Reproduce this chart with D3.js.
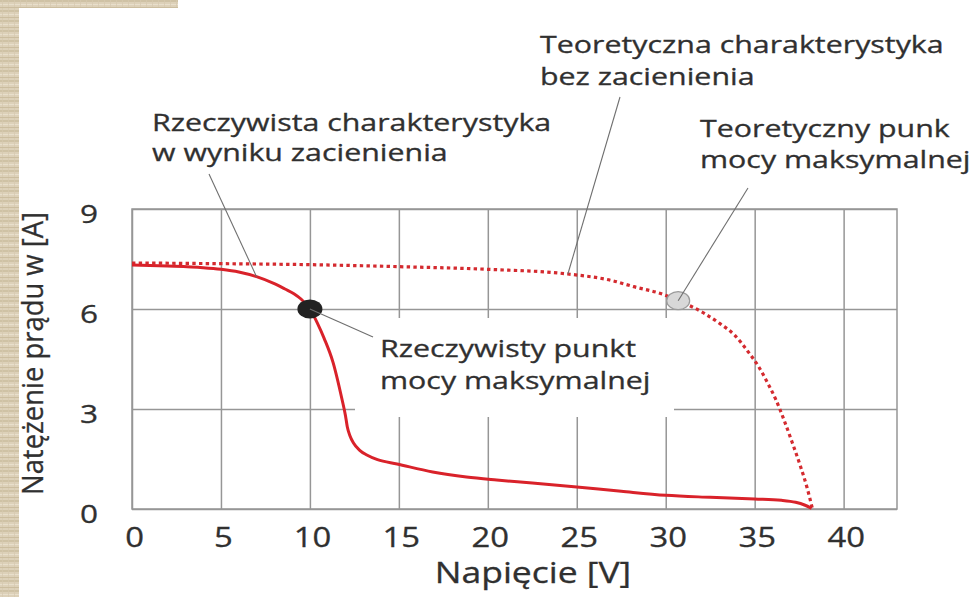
<!DOCTYPE html>
<html>
<head>
<meta charset="utf-8">
<script src="https://cdn.jsdelivr.net/npm/d3@7"></script>
<style>
  html, body { margin: 0; padding: 0; background: #fff; }
  svg { display: block; }
  text { font-family: "Open Sans", "Noto Sans", sans-serif; fill: #303030; stroke: #303030; stroke-width: 0.3px; }
</style>
</head>
<body>
<svg id="chart" width="976" height="597"></svg>
<script>
// I–V characteristic of a PV module: shaded (measured) vs. unshaded (theoretical)
const xTicks = [0, 5, 10, 15, 20, 25, 30, 35, 40];
const yTicks = [0, 3, 6, 9];

// Real characteristic with partial shading
const realV = [0, 2, 4, 5, 6, 7, 8, 8.6, 9.1, 9.5, 10, 10.4, 10.8, 11.3, 11.8, 12.0, 12.1, 12.25, 12.45, 12.8, 13.2, 13.8, 14.9, 16.9, 18.8, 20.5, 22.5, 25, 27.5, 30, 32.5, 35, 36.5, 37.3, 37.8, 38.2];
const realI = [7.32, 7.29, 7.24, 7.19, 7.11, 6.97, 6.76, 6.6, 6.46, 6.3, 6.0, 5.6, 5.12, 4.4, 3.3, 2.8, 2.47, 2.2, 1.98, 1.76, 1.62, 1.48, 1.35, 1.11, 0.96, 0.87, 0.78, 0.66, 0.53, 0.41, 0.35, 0.3, 0.26, 0.2, 0.12, 0.02];

// Theoretical characteristic without shading
const theoV = [0, 5, 10, 15, 20, 24.5, 27, 28.2, 29.9, 30.7, 31.35, 32.2, 33.05, 33.9, 34.6, 35.2, 35.7, 36.2, 36.65, 37.1, 37.55, 37.95, 38.25];
const theoI = [7.38, 7.36, 7.33, 7.27, 7.19, 7.05, 6.85, 6.67, 6.43, 6.25, 6.1, 5.86, 5.56, 5.2, 4.74, 4.29, 3.81, 3.27, 2.67, 2.01, 1.32, 0.63, 0.0];

// Maximum power points
const realMpp = { v: 10, i: 6.0 };
const theoMpp = { v: 30.7, i: 6.25 };

// Leader-line anchor voltages on each curve
const realLeaderV = 7;
const theoLeaderV = 24.5;

const svg = d3.select("#chart");
const W = 976, H = 597;
const margin = { left: 132, top: 209, right: W - 897, bottom: H - 509 };
const w = W - margin.left - margin.right;
const h = H - margin.top - margin.bottom;

// Horizontal stretch shared by all lettering
const TX = 1.265;

// Woven paper strip along the left and top edges
const defs = svg.append("defs");
const pat = defs.append("pattern")
  .attr("id", "weave").attr("patternUnits", "userSpaceOnUse")
  .attr("width", 6).attr("height", 10);
pat.append("rect").attr("width", 6).attr("height", 10).attr("fill", "#ddd1b9");
pat.append("rect").attr("y", 0).attr("width", 6).attr("height", 2).attr("fill", "#cfc2a5");
pat.append("rect").attr("y", 4).attr("width", 6).attr("height", 1).attr("fill", "#e8dfcc");
pat.append("rect").attr("x", 2).attr("width", 1).attr("height", 10).attr("fill", "#d6caaf").attr("opacity", 0.7);
pat.append("rect").attr("y", 7).attr("width", 6).attr("height", 1).attr("fill", "#cbbd9f");
svg.append("rect").attr("x", 0).attr("y", 0).attr("width", 19).attr("height", H).attr("fill", "url(#weave)");
svg.append("rect").attr("x", 0).attr("y", 0).attr("width", 178).attr("height", 8).attr("fill", "url(#weave)");

const x = d3.scaleLinear().domain([0, 43]).range([0, w]);
const y = d3.scaleLinear().domain([0, 9]).range([h, 0]);

const g = svg.append("g").attr("transform", `translate(${margin.left},${margin.top})`);

const gridColor = "#969696";

// Grid
const gx = g.append("g").attr("transform", `translate(0,${h})`)
  .call(d3.axisBottom(x).tickValues(xTicks).tickSize(-h).tickFormat(""));
gx.select(".domain").remove();
gx.selectAll("line").attr("stroke", gridColor).attr("stroke-width", 1.5);

const gy = g.append("g")
  .call(d3.axisLeft(y).tickValues(yTicks).tickSize(-w).tickFormat(""));
gy.select(".domain").remove();
gy.selectAll("line").attr("stroke", gridColor).attr("stroke-width", 1.5);

// Frame
g.append("rect").attr("width", w).attr("height", h)
  .attr("fill", "none").attr("stroke", gridColor).attr("stroke-width", 1.5);

// White backing behind the real-MPP label
svg.append("rect").attr("x", 355).attr("y", 318).attr("width", 319).attr("height", 99).attr("fill", "#fff");

// Tick labels
const xl = g.append("g").attr("transform", `translate(0,${h})`)
  .call(d3.axisBottom(x).tickValues(xTicks).tickSize(0).tickPadding(0).tickFormat(d3.format("d")));
xl.select(".domain").remove();
xl.selectAll("text").attr("x", 0).attr("y", 0).attr("dy", 0)
  .attr("transform", `translate(2,38) scale(${TX - 0.05},1)`)
  .attr("fill", null)
  .style("font-size", "27px").style("font-family", "'Open Sans', sans-serif");

const yl = g.append("g")
  .call(d3.axisLeft(y).tickValues(yTicks).tickSize(0).tickPadding(0).tickFormat(d3.format("d")));
yl.select(".domain").remove();
yl.selectAll("text").attr("x", 0).attr("dy", 0)
  .attr("transform", `translate(-34,13) scale(${TX - 0.05},1)`)
  .attr("fill", null)
  .style("font-size", "26px").style("font-family", "'Open Sans', sans-serif");

// Axis titles
svg.append("text").attr("transform", `translate(533,583) scale(${TX - 0.02},1)`).attr("text-anchor", "middle")
  .style("font-size", "28.5px").text("Napięcie [V]");
svg.append("text").attr("transform", "translate(43,353.5) rotate(-90)")
  .attr("text-anchor", "middle").attr("textLength", 283).attr("lengthAdjust", "spacingAndGlyphs")
  .style("font-size", "30px").text("Natężenie prądu w [A]");

// Curves
const line = d3.line().x(d => x(d[0])).y(d => y(d[1])).curve(d3.curveMonotoneX);
const realData = realV.map((v, k) => [v, realI[k]]);
const theoData = theoV.map((v, k) => [v, theoI[k]]);

// Leader lines (drawn under the markers)
const leader = (x1, y1, x2, y2) => svg.append("line")
  .attr("x1", x1).attr("y1", y1).attr("x2", x2).attr("y2", y2)
  .attr("stroke", "#6f6f6f").attr("stroke-width", 1.1);

const interp = (vs, is, v) => {
  const k = d3.bisectRight(vs, v) - 1;
  const t = (v - vs[k]) / (vs[k + 1] - vs[k]);
  return is[k] + t * (is[k + 1] - is[k]);
};

leader(209, 174, margin.left + x(realLeaderV), margin.top + y(interp(realV, realI, realLeaderV)));
leader(620, 97, margin.left + x(theoLeaderV), margin.top + y(interp(theoV, theoI, theoLeaderV)));
leader(748, 188, margin.left + x(theoMpp.v), margin.top + y(theoMpp.i));
leader(373, 337, margin.left + x(realMpp.v), margin.top + y(realMpp.i));

g.append("path").datum(theoData).attr("d", line)
  .attr("fill", "none").attr("stroke", "#d42a2f").attr("stroke-width", 3.2)
  .attr("stroke-dasharray", "3.4 3.3");

g.append("path").datum(realData).attr("d", line)
  .attr("fill", "none").attr("stroke", "#d9222a").attr("stroke-width", 3);

// Maximum power point markers
g.append("ellipse").attr("cx", x(theoMpp.v)).attr("cy", y(theoMpp.i))
  .attr("rx", 11.5).attr("ry", 9).attr("fill", "#d8d8d8").attr("stroke", "#9a9a9a").attr("stroke-width", 1.2);
g.append("ellipse").attr("cx", x(realMpp.v)).attr("cy", y(realMpp.i))
  .attr("rx", 12.5).attr("ry", 9.5).attr("fill", "#222");

// Annotation labels
const label = (x0, y0, dy, lines) => {
  const t = svg.append("text").attr("transform", `translate(${x0},${y0}) scale(${TX},1)`)
    .style("font-size", "24px");
  lines.forEach((s, k) => t.append("tspan").attr("x", 0).attr("y", k * dy).text(s));
};
label(152, 131, 30, ["Rzeczywista charakterystyka", "w wyniku zacienienia"]);
label(540, 53, 32, ["Teoretyczna charakterystyka", "bez zacienienia"]);
label(700, 137, 31, ["Teoretyczny punk", "mocy maksymalnej"]);
label(380, 357, 32, ["Rzeczywisty punkt", "mocy maksymalnej"]);
</script>
</body>
</html>
